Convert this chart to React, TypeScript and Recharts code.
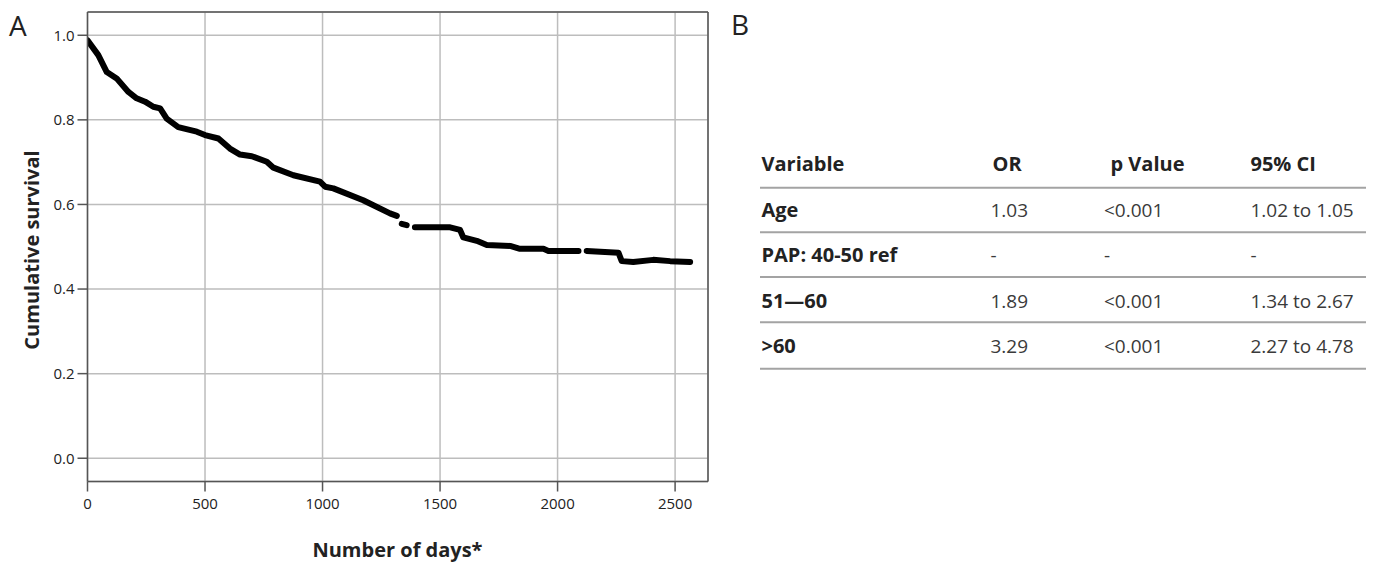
import React from "react";
import { LineChart, Line, XAxis, YAxis, CartesianGrid, ReferenceLine } from "recharts";

// Kaplan-Meier curve (null = gap in the drawn line)
const DAYS = [
    0, 46, 82, 124, 174, 209, 245, 280, 309, 337, 386, 465, 500, 557, 606, 649, 699, 763, 791, 876,
    989, 1011, 1046, 1173, 1287, 1316, 1326, 1337, 1358, 1375, 1393, 1543, 1585, 1599, 1656, 1699,
    1798, 1840, 1940, 1961, 2089, 2106, 2124, 2259, 2273, 2322, 2407, 2479, 2564,
];
const SURVIVAL = [
    0.988, 0.953, 0.913, 0.898, 0.866, 0.851, 0.843, 0.831, 0.827, 0.803, 0.783, 0.772, 0.764, 0.756,
    0.732, 0.718, 0.714, 0.701, 0.687, 0.669, 0.654, 0.642, 0.638, 0.61, 0.579, 0.573, null, 0.554,
    0.551, null, 0.546, 0.546, 0.54, 0.522, 0.514, 0.504, 0.502, 0.495, 0.495, 0.49, 0.49, null, 0.49,
    0.486, 0.466, 0.464, 0.469, 0.466, 0.464,
];
const X_TICKS = [0, 500, 1000, 1500, 2000, 2500];
const Y_TICKS = [0, 0.2, 0.4, 0.6, 0.8, 1.0];
const X_MAX = 2640;
const Y_MIN = -0.055;
const Y_MAX = 1.055;

// table in panel B
const TABLE_HEADERS = ["Variable", "OR", "p Value", "95% CI"];
const TABLE_VARIABLES = ["Age", "PAP: 40-50 ref", "51\u201460", ">60"];
const TABLE_OR = ["1.03", "-", "1.89", "3.29"];
const TABLE_P = ["<0.001", "-", "<0.001", "<0.001"];
const TABLE_CI = ["1.02 to 1.05", "-", "1.34 to 2.67", "2.27 to 4.78"];

const curve = DAYS.map((d, i) => ({ day: d, survival: SURVIVAL[i] }));

const FONT = "'Open Sans', 'DejaVu Sans', sans-serif";
const AXIS = "#555";
const GRID = "#bdbdbd";

const headerX = [761.5, 992.5, 1110.5, 1250.5];
const cellX = [761.5, 990.5, 1104, 1250.5];
const rowLines = [187.7, 232.3, 277, 322.3, 368.7];

export default function App() {
    return (
        <div style={{ position: "absolute", left: 0, top: 0, width: 1381, height: 562, background: "#fff", fontFamily: FONT }}>
            <LineChart width={730} height={562} data={curve} margin={{ top: 12, right: 22, bottom: 0, left: 0 }}>
                <CartesianGrid stroke={GRID} strokeWidth={1.5} />
                <XAxis
                    dataKey="day"
                    type="number"
                    domain={[0, X_MAX]}
                    ticks={X_TICKS}
                    allowDataOverflow
                    height={80.5}
                    tickSize={10}
                    tickMargin={7}
                    stroke={AXIS}
                    strokeWidth={1.5}
                    tick={{ fill: "#222", fontSize: 15, fontFamily: FONT }}
                />
                <YAxis
                    type="number"
                    domain={[Y_MIN, Y_MAX]}
                    ticks={Y_TICKS}
                    allowDataOverflow
                    width={87.5}
                    tickSize={10}
                    tickMargin={3}
                    stroke={AXIS}
                    strokeWidth={1.5}
                    tickFormatter={(v: number) => v.toFixed(1)}
                    tick={{ fill: "#222", fontSize: 15, fontFamily: FONT }}
                />
                {/* top and right frame of the plot box */}
                <ReferenceLine y={Y_MAX} stroke={AXIS} strokeWidth={1.5} />
                <ReferenceLine x={X_MAX} stroke={AXIS} strokeWidth={1.5} />
                <Line
                    type="linear"
                    dataKey="survival"
                    stroke="#000"
                    strokeWidth={6}
                    strokeLinecap="round"
                    strokeLinejoin="round"
                    dot={false}
                    activeDot={false}
                    connectNulls={false}
                    isAnimationActive={false}
                />
            </LineChart>

            <svg width={1381} height={562} style={{ position: "absolute", left: 0, top: 0, pointerEvents: "none" }}>
                <defs>
                    <clipPath id="tableClip">
                        <rect x={740} y={0} width={626} height={562} />
                    </clipPath>
                </defs>
                <text x={9} y={36} fontSize={28} fill="#222" fontFamily={FONT}>A</text>
                <text x={731} y={35} fontSize={28} fill="#222" fontFamily={FONT}>B</text>

                <text x={38.5} y={250} transform="rotate(-90 38.5 250)" textAnchor="middle" fontSize={20} fontWeight={700} fill="#222" fontFamily={FONT}>
                    Cumulative survival
                </text>
                <text x={397.5} y={557} textAnchor="middle" fontSize={20} fontWeight={700} fill="#222" fontFamily={FONT}>
                    Number of days*
                </text>

                <g clipPath="url(#tableClip)" fontFamily={FONT} fontSize={19}>
                    {TABLE_HEADERS.map((h, i) => (
                        <text key={h} x={headerX[i]} y={170.7} fontSize={20} fontWeight={700} fill="#222">{h}</text>
                    ))}
                    {rowLines.map((y, i) => (
                        <line key={i} x1={760} x2={1366} y1={y} y2={y} stroke="#a3a3a3" strokeWidth={2} />
                    ))}
                    {TABLE_VARIABLES.map((v, r) => {
                        const y = 216.7 + r * 45.5;
                        return (
                            <g key={v}>
                                <text x={cellX[0]} y={y} fontSize={20} fontWeight={700} fill="#222">{v}</text>
                                <text x={cellX[1]} y={y} fill="#3a3a3a">{TABLE_OR[r]}</text>
                                <text x={cellX[2]} y={y} fill="#3a3a3a">{TABLE_P[r]}</text>
                                <text x={cellX[3]} y={y} fill="#3a3a3a">{TABLE_CI[r]}</text>
                            </g>
                        );
                    })}
                </g>
            </svg>
        </div>
    );
}
